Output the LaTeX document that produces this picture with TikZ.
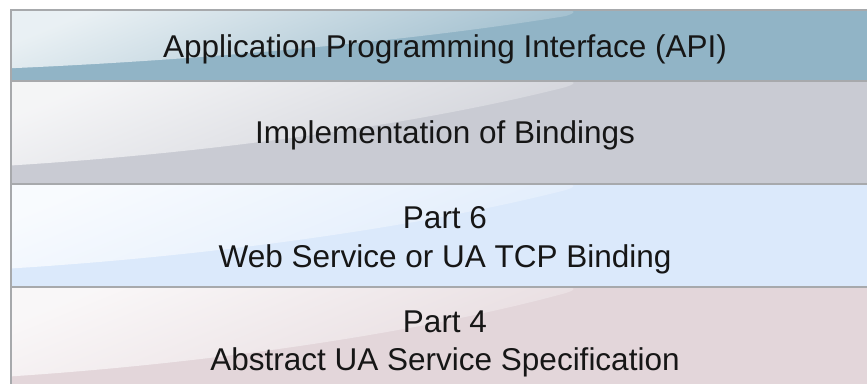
\documentclass[tikz,border=0pt]{standalone}
\usepackage{fontspec}
\setmainfont{Liberation Sans}

\definecolor{apiBase}{HTML}{91B4C6}
\definecolor{bindBase}{HTML}{C9CBD3}
\definecolor{partSixBase}{HTML}{DBE9FB}
\definecolor{partFourBase}{HTML}{E3D6DA}
\definecolor{ruleGray}{HTML}{A7A9AC}
\definecolor{ink}{HTML}{161616}

% one layer of the stack: #1 top edge, #2 height, #3 base colour
\newcommand\drawlayer[3]{%
  \fill[#3] (11,#1) rectangle (880,#1+#2);
  \shade[top color=white!80!#3, bottom color=white!10!#3, shading angle=22]
    (11,#1) -- (558,#1) .. controls (576,#1) and (578,#1+2) .. (566,#1+6)
    .. controls (420,#1+0.42*#2) and (210,#1+0.70*#2) .. (11,#1+0.82*#2) -- cycle;
}

\tikzset{
  layertext/.style={anchor=base, text=ink, inner sep=0pt,
    font=\fontsize{31.5}{39}\selectfont},
  layerrule/.style={draw=ruleGray, line width=1.5pt},
}

\begin{document}
\begin{tikzpicture}[x=1pt, y=-1pt]
  \useasboundingbox (0,0) rectangle (867,383);
  \clip (0,0) rectangle (867,383);
  \fill[white] (0,0) rectangle (867,383);

  % the four layers, top to bottom
  \drawlayer{10}{71}{apiBase}
  \drawlayer{81}{103}{bindBase}
  \drawlayer{184}{103}{partSixBase}
  \drawlayer{287}{109}{partFourBase}

  % outline and separators
  \draw[layerrule] (880,10) -- (11,10) -- (11,396);
  \draw[layerrule] (11,81) -- (880,81);
  \draw[layerrule] (11,184) -- (880,184);
  \draw[layerrule] (11,287) -- (880,287);

  % labels
  \node[layertext] (api)   at (445,57)  {Application Programming Interface (API)};
  \node[layertext] (impl)  at (445,143) {Implementation of Bindings};
  \node[layertext] (p6a)   at (445,228) {Part 6};
  \node[layertext] (p6b)   at (445,267) {Web Service or UA TCP Binding};
  \node[layertext] (p4a)   at (445,332) {Part 4};
  \node[layertext] (p4b)   at (445,370) {Abstract UA Service Specification};
\end{tikzpicture}
\end{document}
